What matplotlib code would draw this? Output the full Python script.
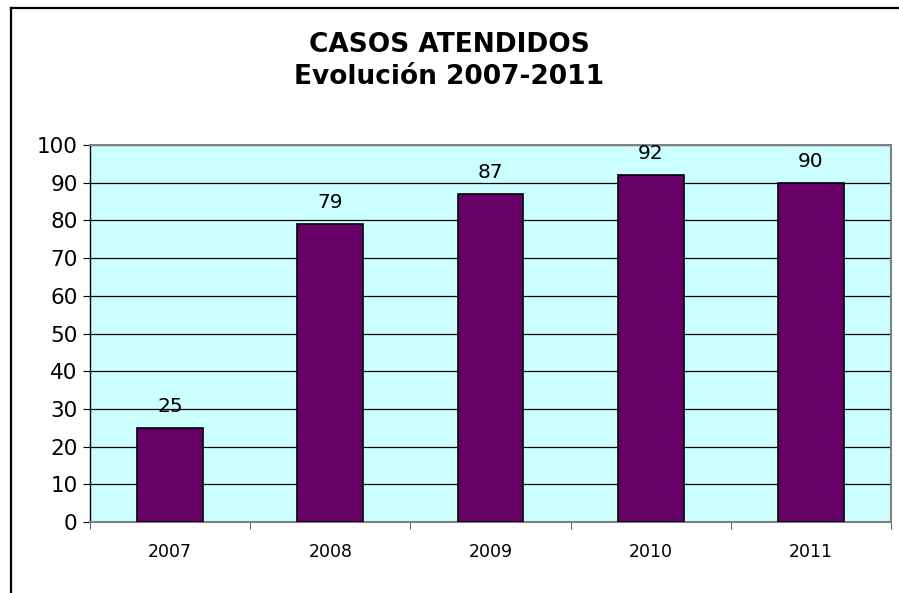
import matplotlib
matplotlib.use("Agg")
import matplotlib.pyplot as plt
from matplotlib.lines import Line2D
import numpy as np

years = ["2007", "2008", "2009", "2010", "2011"]
casos = [25, 79, 87, 92, 90]

BAR_COLOR = "#660066"
BG_COLOR = "#ccffff"

fig = plt.figure(figsize=(8.99, 5.93), dpi=100)
ax = fig.add_axes([90 / 899, 1 - 522 / 593, (891 - 90) / 899, (522 - 145) / 593])
ax.set_facecolor(BG_COLOR)

x = np.arange(len(years))
ax.bar(x, casos, width=0.41, color=BAR_COLOR, edgecolor="black", linewidth=1.2, zorder=3)
for xi, v in zip(x, casos):
    ax.text(xi, v + 3.2, str(v), ha="center", va="bottom", fontsize=14.5, zorder=4)

ax.set_xlim(-0.5, len(years) - 0.5)
ax.set_ylim(0, 100)
ax.set_yticks(range(0, 101, 10))
ax.yaxis.grid(True, color="black", linewidth=0.9, zorder=1)
ax.set_axisbelow(True)

ax.set_xticks(x)
ax.set_xticklabels(years, fontsize=12.5)
ax.set_xticks(np.arange(-0.5, len(years)), minor=True)
ax.tick_params(axis="x", which="major", length=0, pad=15)
ax.tick_params(axis="x", which="minor", length=5, color="#404040", direction="out")
ax.tick_params(axis="y", labelsize=15.5, length=5, direction="out", color="black", pad=4)

for side in ("top", "right", "bottom"):
    ax.spines[side].set_color("#808080")
    ax.spines[side].set_linewidth(1.5)
ax.spines["left"].set_color("black")
ax.spines["left"].set_linewidth(1.0)

fig.text(0.5, 1 - 45 / 593, "CASOS ATENDIDOS", ha="center", va="center",
         fontsize=19, fontweight="bold")
fig.text(0.5, 1 - 77 / 593, "Evolución 2007-2011", ha="center", va="center",
         fontsize=19, fontweight="bold")

# outer chart frame (top and left edges visible)
fig.add_artist(Line2D([10.5 / 899, 1.0], [1 - 8 / 593, 1 - 8 / 593],
                      color="black", linewidth=1.6, transform=fig.transFigure))
fig.add_artist(Line2D([10.5 / 899, 10.5 / 899], [0.0, 1 - 8 / 593],
                      color="black", linewidth=1.6, transform=fig.transFigure))

fig.savefig("out.png", dpi=100)
